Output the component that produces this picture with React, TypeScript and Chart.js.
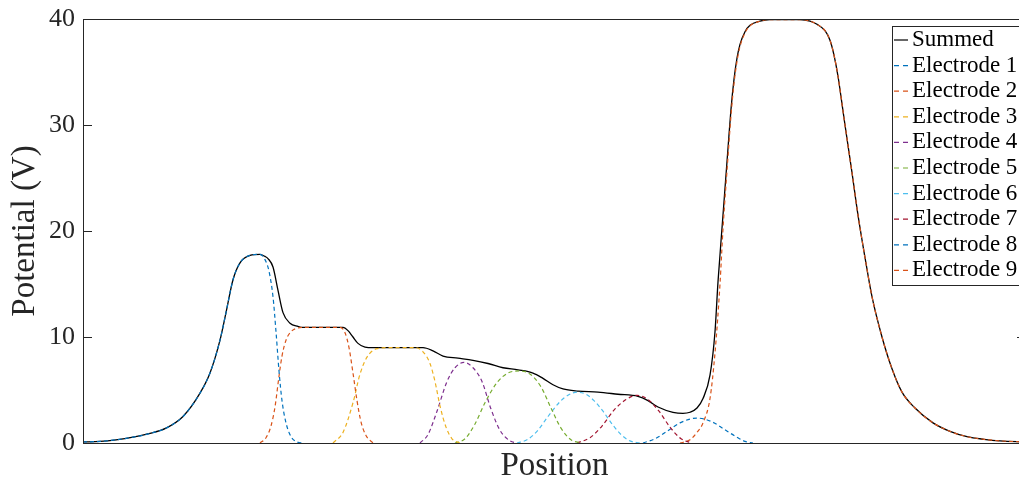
import React, { useEffect, useRef } from "react";
import { Chart, registerables } from "chart.js";

Chart.register(...registerables);

// ---- Data (position in arbitrary units along the axis, potential in V) ----
const seriesLabels = [
  "Summed",
  "Electrode 1",
  "Electrode 2",
  "Electrode 3",
  "Electrode 4",
  "Electrode 5",
  "Electrode 6",
  "Electrode 7",
  "Electrode 8",
  "Electrode 9",
];
const seriesColors = [
  "#000000",
  "#0072BD",
  "#D95319",
  "#EDB120",
  "#7E2F8E",
  "#77AC30",
  "#4DBEEE",
  "#A2142F",
  "#0072BD",
  "#D95319",
];
const yTicks = [0, 10, 20, 30, 40];
const posMin = 0;
const posMax = 943;

const summedPos = [0, 17, 33, 50, 67, 83, 100, 117, 127, 137, 143, 150, 157, 167, 177, 182, 185, 190, 195, 200, 207, 215, 220, 260, 265, 270, 275, 282, 290, 340, 350, 360, 375, 390, 405, 420, 435, 450, 460, 470, 480, 495, 515, 535, 555, 565, 575, 590, 600, 607, 614, 620, 627, 632, 635, 640, 645, 648, 651, 654, 657, 662, 667, 677, 687, 717, 727, 734, 742, 747, 751, 755, 759, 762, 769, 775, 782, 789, 799, 809, 819, 832, 850, 867, 884, 901, 917, 943];
const summedV = [0.1, 0.15, 0.3, 0.55, 0.9, 1.4, 2.5, 4.7, 6.6, 9.7, 12.3, 15.4, 17.0, 17.7, 17.8, 17.6, 17.4, 16.6, 14.4, 12.3, 11.3, 11.0, 10.9, 10.9, 10.6, 10.0, 9.4, 9.05, 9.0, 9.0, 8.7, 8.2, 8.0, 7.8, 7.5, 7.1, 6.9, 6.6, 6.1, 5.5, 5.1, 4.9, 4.8, 4.6, 4.4, 4.0, 3.4, 2.9, 2.8, 2.9, 3.3, 4.2, 6.4, 10.5, 15.2, 21.5, 27.8, 31.5, 34.3, 36.3, 37.6, 38.8, 39.4, 39.8, 39.95, 39.95, 39.8, 39.5, 38.9, 38.0, 36.6, 34.6, 32.0, 30.0, 25.5, 21.5, 17.5, 13.8, 10.0, 7.0, 4.8, 3.3, 1.9, 1.1, 0.6, 0.35, 0.2, 0.1];

const e1Pos = [0, 17, 33, 50, 67, 83, 100, 117, 127, 137, 143, 150, 157, 167, 177, 182, 186, 190, 193, 196, 199, 203, 208, 214, 220];
const e1V = [0.1, 0.15, 0.3, 0.55, 0.9, 1.4, 2.5, 4.7, 6.6, 9.7, 12.3, 15.4, 17.0, 17.7, 17.8, 17.3, 16.2, 13.8, 10.5, 6.8, 4.0, 1.9, 0.6, 0.1, 0];

const e2Pos = [177, 183, 188, 192, 196, 199, 203, 208, 215, 220, 257, 262, 266, 270, 274, 278, 283, 290];
const e2V = [0, 0.5, 1.6, 3.4, 6.3, 8.2, 9.7, 10.5, 10.85, 10.9, 10.9, 10.4, 9.0, 6.6, 4.0, 2.0, 0.7, 0];

const e3Pos = [250, 260, 270, 277, 284, 294, 307, 332, 340, 347, 352, 357, 363, 369, 377];
const e3V = [0, 1.0, 3.8, 6.5, 8.1, 8.9, 9.0, 9.0, 8.6, 7.5, 5.8, 3.5, 1.5, 0.4, 0];

const e4Pos = [337, 345, 354, 364, 372, 381, 390, 399, 408, 417, 427, 434];
const e4V = [0, 0.8, 3.0, 5.8, 7.1, 7.6, 7.1, 5.8, 3.2, 1.2, 0.2, 0];

const e5Pos = [372, 382, 392, 402, 414, 425, 436, 447, 458, 468, 478, 488, 499];
const e5V = [0, 0.4, 1.8, 3.8, 5.7, 6.6, 6.8, 6.5, 5.3, 3.3, 1.4, 0.3, 0];

const e6Pos = [434, 444, 454, 465, 477, 485, 494, 503, 511, 520, 529, 538, 547, 557];
const e6V = [0, 0.3, 1.1, 2.5, 3.9, 4.5, 4.8, 4.6, 4.0, 3.0, 1.8, 0.8, 0.2, 0];

const e7Pos = [494, 507, 519, 531, 543, 554, 565, 576, 587, 598, 609];
const e7V = [0, 0.5, 1.6, 3.1, 4.1, 4.5, 4.1, 3.0, 1.5, 0.4, 0];

const e8Pos = [560, 572, 584, 597, 614, 629, 641, 653, 662, 670];
const e8V = [0, 0.4, 1.1, 1.9, 2.35, 2.0, 1.3, 0.6, 0.15, 0];

const e9Pos = [597, 607, 614, 620, 627, 632, 637, 640, 645, 648, 651, 654, 657, 662, 667, 677, 687, 717, 727, 734, 742, 747, 751, 755, 759, 762, 769, 775, 782, 789, 799, 809, 819, 832, 850, 867, 884, 901, 917, 943];
const e9V = [0, 0.3, 1.0, 1.9, 4.2, 8.5, 15.0, 20.2, 27.0, 30.9, 33.9, 36.0, 37.4, 38.7, 39.35, 39.8, 39.95, 39.95, 39.8, 39.5, 38.9, 38.0, 36.6, 34.6, 32.0, 30.0, 25.5, 21.5, 17.5, 13.8, 10.0, 7.0, 4.8, 3.3, 1.9, 1.1, 0.6, 0.35, 0.2, 0.1];

const seriesPos = [summedPos, e1Pos, e2Pos, e3Pos, e4Pos, e5Pos, e6Pos, e7Pos, e8Pos, e9Pos];
const seriesV = [summedV, e1V, e2V, e3V, e4V, e5V, e6V, e7V, e8V, e9V];

const AXIS_COLOR = "#262626";
const SERIF = '"Liberation Serif", "DejaVu Serif", serif';

const framePlugin = {
  id: "frameTicks",
  afterDatasetsDraw(chart: any) {
    const { ctx, chartArea: a, scales } = chart;
    ctx.save();
    ctx.strokeStyle = AXIS_COLOR;
    ctx.lineWidth = 1;
    ctx.setLineDash([]);
    ctx.strokeRect(a.left + 0.5, a.top + 0.5, a.right - a.left, a.bottom - a.top);
    ctx.beginPath();
    yTicks.forEach((t) => {
      const y = Math.round(scales.y.getPixelForValue(t)) + 0.5;
      ctx.moveTo(a.left, y);
      ctx.lineTo(a.left + 9, y);
      ctx.moveTo(a.right - 9, y);
      ctx.lineTo(a.right, y);
    });
    ctx.stroke();
    ctx.restore();
  },
};

const legendPlugin = {
  id: "boxLegend",
  afterDraw(chart: any) {
    const { ctx } = chart;
    const ds = chart.data.datasets;
    const left = 892.5;
    const top = 26.5;
    const rowH = 25.6;
    const firstY = 40;
    const sampleX0 = 894;
    const sampleX1 = 908;
    const textX = 912;
    ctx.save();
    ctx.font = "23px " + SERIF;
    let maxW = 0;
    ds.forEach((d: any) => {
      maxW = Math.max(maxW, ctx.measureText(d.label).width);
    });
    const right = Math.round(textX + maxW + 2) + 0.5;
    const bottom = 285.5;
    ctx.fillStyle = "#ffffff";
    ctx.fillRect(left, top, right - left, bottom - top);
    ctx.strokeStyle = AXIS_COLOR;
    ctx.lineWidth = 1;
    ctx.strokeRect(left, top, right - left, bottom - top);
    ds.forEach((d: any, i: number) => {
      const y = firstY + i * rowH;
      ctx.beginPath();
      ctx.strokeStyle = d.borderColor;
      ctx.lineWidth = 1.2;
      ctx.setLineDash(d.borderDash && d.borderDash.length ? [5, 4] : []);
      ctx.moveTo(sampleX0, y);
      ctx.lineTo(sampleX1, y);
      ctx.stroke();
      ctx.setLineDash([]);
      ctx.fillStyle = "#000000";
      ctx.textBaseline = "middle";
      ctx.textAlign = "left";
      ctx.fillText(d.label, textX, y);
    });
    ctx.restore();
  },
};

export default function App() {
  const canvasRef = useRef<HTMLCanvasElement | null>(null);

  useEffect(() => {
    const canvas = canvasRef.current;
    if (!canvas) return;
    let chart: Chart | null = null;
    let cancelled = false;

    const build = () => {
      if (cancelled) return;
      const datasets = seriesLabels.map((label, i) => ({
        label,
        data: seriesPos[i].map((x, j) => ({ x, y: seriesV[i][j] })),
        borderColor: seriesColors[i],
        backgroundColor: seriesColors[i],
        borderWidth: i === 0 ? 1.3 : 1.2,
        borderDash: i === 0 ? [] : [4, 3],
        pointRadius: 0,
        fill: false,
        cubicInterpolationMode: "monotone" as const,
        order: i === 0 ? 1 : 0,
      }));

      chart = new Chart(canvas, {
        type: "line",
        data: { datasets },
        options: {
          responsive: false,
          maintainAspectRatio: false,
          animation: false,
          devicePixelRatio: 1,
          layout: { padding: { top: 19, right: 0, left: 0, bottom: 0 } },
          plugins: {
            legend: { display: false },
            tooltip: { enabled: false },
          },
          scales: {
            x: {
              type: "linear",
              min: posMin,
              max: posMax,
              grid: { display: false, drawTicks: false },
              border: { display: false },
              ticks: { display: false },
              title: {
                display: true,
                text: "Position",
                color: AXIS_COLOR,
                font: { family: SERIF, size: 33, lineHeight: 0.94 },
                padding: { top: 0, bottom: 0 },
              },
              afterFit(scale: any) {
                scale.height = 39;
                scale.paddingLeft = 0;
                scale.paddingRight = 0;
              },
            },
            y: {
              type: "linear",
              min: 0,
              max: 40,
              grid: { display: false, drawTicks: false },
              border: { display: false },
              afterBuildTicks(scale: any) {
                scale.ticks = yTicks.map((v) => ({ value: v }));
              },
              ticks: {
                color: AXIS_COLOR,
                padding: 8,
                font: { family: SERIF, size: 26 },
              },
              title: {
                display: true,
                text: "Potential (V)",
                color: AXIS_COLOR,
                font: { family: SERIF, size: 33, lineHeight: 1 },
                padding: { top: 8.5, bottom: 0 },
              },
              afterFit(scale: any) {
                scale.width = 83;
                scale.paddingTop = 0;
                scale.paddingBottom = 0;
              },
            },
          },
        },
        plugins: [framePlugin, legendPlugin],
      });
    };

    const fonts: any = (document as any).fonts;
    if (fonts && fonts.load) {
      Promise.all([
        fonts.load('23px "Liberation Serif"'),
        fonts.load('26px "Liberation Serif"'),
        fonts.load('33px "Liberation Serif"'),
      ])
        .catch(() => undefined)
        .then(build);
    } else {
      build();
    }

    return () => {
      cancelled = true;
      if (chart) chart.destroy();
    };
  }, []);

  return (
    <div
      style={{
        position: "absolute",
        left: 0,
        top: 0,
        width: 1019,
        height: 482,
        overflow: "hidden",
        background: "#ffffff",
      }}
    >
      <canvas
        ref={canvasRef}
        width={1026}
        height={482}
        style={{ display: "block", width: 1026, height: 482 }}
      />
    </div>
  );
}
